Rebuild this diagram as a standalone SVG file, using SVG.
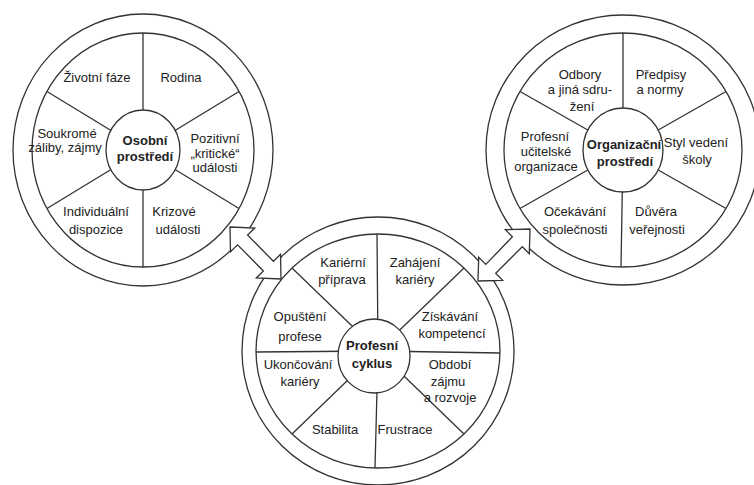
<svg xmlns="http://www.w3.org/2000/svg" width="754" height="485" viewBox="0 0 754 485">
<style>
.ring{fill:#fff;stroke:#333;stroke-width:1.3}
.inner{fill:none;stroke:#333;stroke-width:1.3}
.spoke{stroke:#333;stroke-width:1.3}
.hub{fill:#fff;stroke:#333;stroke-width:1.3}
.arrow{fill:#fff;stroke:#333;stroke-width:1.3;stroke-linejoin:miter}
text{font-family:"Liberation Sans",Arial,sans-serif;font-size:13px;fill:#222;text-anchor:middle}
.b{font-weight:bold}
</style>
<rect width="754" height="485" fill="#fff"/>

<g id="osobni-prostredi">
<ellipse class="ring" cx="143" cy="150" rx="130" ry="136"/>
<ellipse class="inner" cx="143" cy="150" rx="111" ry="117"/>
<line class="spoke" x1="143" y1="150" x2="143" y2="33"/>
<line class="spoke" x1="143" y1="150" x2="143" y2="267"/>
<line class="spoke" x1="143" y1="150" x2="239" y2="91.5"/>
<line class="spoke" x1="143" y1="150" x2="239" y2="208.5"/>
<line class="spoke" x1="143" y1="150" x2="47" y2="91.5"/>
<line class="spoke" x1="143" y1="150" x2="47" y2="208.5"/>
<ellipse class="hub" cx="143" cy="150" rx="37" ry="40"/>
<text class="b" x="145" y="145">Osobní</text>
<text class="b" x="145" y="161">prostředí</text>
<text x="97" y="82">Životní fáze</text>
<text x="181" y="82">Rodina</text>
<text x="67" y="138">Soukromé</text>
<text x="65" y="152">záliby, zájmy</text>
<text x="215" y="143">Pozitivní</text>
<text x="215" y="158">„kritické“</text>
<text x="215" y="172">události</text>
<text x="96" y="216">Individuální</text>
<text x="96" y="234">dispozice</text>
<text x="174" y="216">Krizové</text>
<text x="178" y="234">události</text>
</g>

<g id="organizacni-prostredi">
<ellipse class="ring" cx="623" cy="150" rx="137" ry="135"/>
<ellipse class="inner" cx="623" cy="150" rx="119" ry="117"/>
<line class="spoke" x1="623" y1="150" x2="623" y2="33"/>
<line class="spoke" x1="623" y1="150" x2="621" y2="267"/>
<line class="spoke" x1="623" y1="150" x2="726" y2="91.5"/>
<line class="spoke" x1="623" y1="150" x2="726" y2="208.5"/>
<line class="spoke" x1="623" y1="150" x2="520" y2="91.5"/>
<line class="spoke" x1="623" y1="150" x2="520" y2="208.5"/>
<ellipse class="hub" cx="623" cy="150" rx="40" ry="42"/>
<text class="b" x="624" y="149">Organizační</text>
<text class="b" x="625" y="166">prostředí</text>
<text x="580" y="79">Odbory</text>
<text x="580" y="94">a jiná sdru-</text>
<text x="582" y="111">žení</text>
<text x="661" y="79">Předpisy</text>
<text x="660" y="94">a normy</text>
<text x="545" y="141">Profesní</text>
<text x="546" y="156">učitelské</text>
<text x="546" y="171">organizace</text>
<text x="696" y="147">Styl vedení</text>
<text x="697" y="164">školy</text>
<text x="575" y="216">Očekávání</text>
<text x="575" y="234">společnosti</text>
<text x="656" y="216">Důvěra</text>
<text x="657" y="234">veřejnosti</text>
</g>

<g id="profesni-cyklus">
<ellipse class="ring" cx="378" cy="351" rx="136" ry="134"/>
<ellipse class="inner" cx="378" cy="351" rx="122" ry="117"/>
<line class="spoke" x1="378" y1="351" x2="377" y2="234"/>
<line class="spoke" x1="378" y1="351" x2="375" y2="468"/>
<line class="spoke" x1="378" y1="351" x2="256" y2="352"/>
<line class="spoke" x1="378" y1="351" x2="500" y2="353"/>
<line class="spoke" x1="378" y1="351" x2="464" y2="268"/>
<line class="spoke" x1="378" y1="351" x2="292" y2="268"/>
<line class="spoke" x1="378" y1="351" x2="464" y2="434"/>
<line class="spoke" x1="378" y1="351" x2="292" y2="434"/>
<ellipse class="hub" cx="374" cy="356" rx="36" ry="37"/>
<text class="b" x="372" y="350">Profesní</text>
<text class="b" x="372" y="368">cyklus</text>
<text x="343" y="267">Kariérní</text>
<text x="342" y="284">příprava</text>
<text x="415" y="267">Zahájení</text>
<text x="415" y="284">kariéry</text>
<text x="300" y="321">Opuštění</text>
<text x="300" y="341">profese</text>
<text x="450" y="321">Získávání</text>
<text x="452" y="338">kompetencí</text>
<text x="298" y="369">Ukončování</text>
<text x="300" y="386">kariéry</text>
<text x="450" y="369">Období</text>
<text x="448" y="386">zájmu</text>
<text x="450" y="402">a rozvoje</text>
<text x="335" y="434">Stabilita</text>
<text x="405" y="434">Frustrace</text>
</g>

<g id="connectors">
<polygon class="arrow" points="230,227 254.7,228 247.6,235 273.4,261.3 280.5,254.3 281,279 256.3,278 263.4,271 237.6,244.8 230.5,251.8"/>
<polygon class="arrow" points="530,229 529.3,253.7 522.3,246.7 495.7,273.3 502.7,280.3 478,281 478.7,257.3 485.8,264.4 512.4,236.8 505.3,229.7"/>
</g>
</svg>
